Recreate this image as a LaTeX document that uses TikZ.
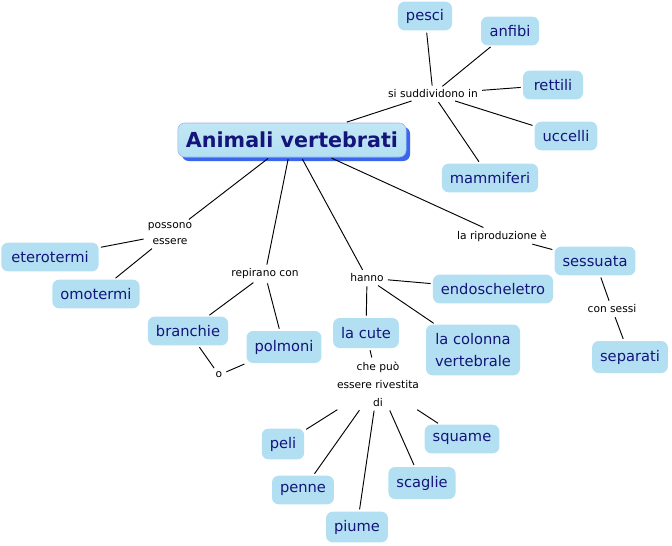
\documentclass[tikz,border=0pt]{standalone}
\usepackage{fontspec}
\setmainfont{DejaVu Sans}
\usetikzlibrary{shadows}
\definecolor{boxfill}{HTML}{B2E0F2}
\definecolor{navy}{HTML}{14147A}
\definecolor{shadowblue}{HTML}{3A66EE}
\begin{document}
\begin{tikzpicture}[x=0.75pt,y=-0.75pt,
  concept/.style={rounded corners=5pt, fill=boxfill, text=navy,
    font=\fontsize{11}{17}\selectfont, inner xsep=6pt, inner ysep=2pt,
    minimum height=21.5pt, align=center},
  link/.style={font=\fontsize{8}{12}\selectfont, inner sep=1.5pt, align=center, text=black},
  conn/.style={draw=black, line width=0.7pt, shorten <=1.5pt, shorten >=1.5pt}]
\useasboundingbox (0,0) rectangle (672,546);

% main concept
\node[concept, font=\bfseries\fontsize{15.5}{18}\selectfont, minimum width=171pt,
  minimum height=25.5pt, draw=shadowblue!50, line width=0.4pt,
  top color=boxfill!80, bottom color=boxfill,
  drop shadow={shadow xshift=3pt, shadow yshift=-3pt, fill=shadowblue, opacity=1}]
  (main) at (292,140) {Animali vertebrati};

% concepts
\node[concept, minimum width=40pt]   (pesci)   at (425,16)  {pesci};
\node[concept, minimum width=43.5pt] (anfibi)  at (510,31)  {anfibi};
\node[concept, minimum width=45pt]   (rettili) at (553,85)  {rettili};
\node[concept, minimum width=46pt]   (uccelli) at (566,136) {uccelli};
\node[concept, minimum width=70.5pt] (mammi)   at (490,178) {mammiferi};
\node[concept, minimum width=73pt]   (etero)   at (50,257)  {eterotermi};
\node[concept, minimum width=64pt]   (omo)     at (96,294)  {omotermi};
\node[concept, minimum width=59pt]   (branch)  at (188,331) {branchie};
\node[concept, minimum width=52.5pt, minimum height=24pt] (polm) at (284,347) {polmoni};
\node[concept, minimum width=90pt]   (endo)    at (493,289) {endoscheletro};
\node[concept, minimum width=49pt, minimum height=22.5pt] (cute) at (366,333) {la cute};
\node[concept, minimum width=70.5pt, minimum height=38pt] (colonna) at (473,350) {la colonna\\vertebrale};
\node[concept, minimum width=59pt]   (sess)    at (595,261) {sessuata};
\node[concept, minimum width=56pt, minimum height=24pt] (separ) at (630,357) {separati};
\node[concept, minimum width=31.5pt, minimum height=23pt] (peli) at (283,444) {peli};
\node[concept, minimum width=43pt]   (penne)   at (303,490) {penne};
\node[concept, minimum width=42pt, minimum height=23pt] (piume) at (357,527) {piume};
\node[concept, minimum width=49.5pt, minimum height=24pt] (scaglie) at (422,483) {scaglie};
\node[concept, minimum width=51pt]   (squame)  at (462,439) {squame};

% linking phrases
\node[link] (si)    at (433,94)  {si suddividono in};
\node[link] (poss)  at (170,234) {possono\\essere};
\node[link] (rep)   at (265,274) {repirano con};
\node[link] (o)     at (219,375) {o};
\node[link] (hanno) at (367,278) {hanno};
\node[link] (rip)   at (502,236) {la riproduzione è};
\node[link] (con)   at (612,309) {con sessi};
\node[link, font=\fontsize{8}{13.5}\selectfont] (che) at (378,384) {che può\\essere rivestita\\di};

% connectors
\draw[conn] (main) -- (si);
\draw[conn] (si) -- (pesci);
\draw[conn] (si) -- (anfibi);
\draw[conn] (si) -- (rettili);
\draw[conn] (si) -- (uccelli);
\draw[conn] (si) -- (mammi);
\draw[conn] (main) -- (poss);
\draw[conn] (poss) -- (etero);
\draw[conn] (poss) -- (omo);
\draw[conn] (main) -- (rep);
\draw[conn] (rep) -- (branch);
\draw[conn] (rep) -- (polm);
\draw[conn] (branch) -- (o);
\draw[conn] (o) -- (polm);
\draw[conn] (main) -- (hanno);
\draw[conn] (hanno) -- (endo);
\draw[conn] (hanno) -- (cute);
\draw[conn] (hanno) -- (colonna);
\draw[conn] (main) -- (rip);
\draw[conn] (rip) -- (sess);
\draw[conn] (sess) -- (con);
\draw[conn] (con) -- (separ);
\draw[conn] (cute) -- (che);
\draw[conn] (che) -- (peli);
\draw[conn] (che) -- (penne);
\draw[conn] (che) -- (piume);
\draw[conn] (che) -- (scaglie);
\draw[conn] (che) -- (squame);
\end{tikzpicture}
\end{document}
